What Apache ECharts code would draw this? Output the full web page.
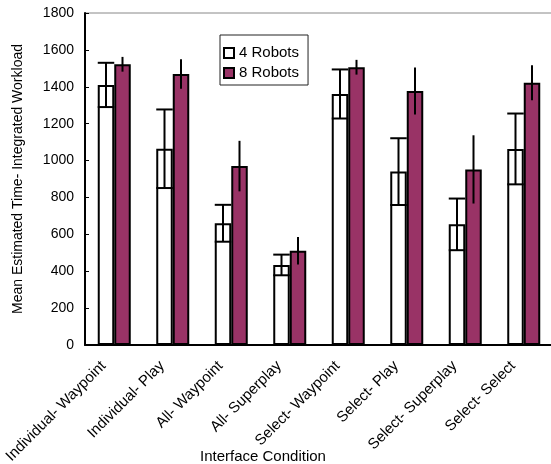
<!DOCTYPE html>
<html>
<head>
<meta charset="utf-8">
<script src="https://cdn.jsdelivr.net/npm/echarts@6/dist/echarts.min.js"></script>
<style>
  html, body { margin: 0; padding: 0; background: #fff; }
  #chart { width: 551px; height: 464px; }
</style>
</head>
<body>
<div id="chart"></div>
<script>
// Interface conditions along the x axis
const categories = ['Individual- Waypoint', 'Individual- Play', 'All- Waypoint', 'All- Superplay',
                    'Select- Waypoint', 'Select- Play', 'Select- Superplay', 'Select- Select'];
// Mean estimated workload and error half-widths
const robots4 = [1410, 1064, 660, 434, 1361, 940, 654, 1063];
const robots4Err = [120, 213, 100, 56, 133, 181, 140, 192];
const robots8 = [1522, 1469, 970, 511, 1506, 1377, 952, 1422];
const robots8Err = [40, 80, 137, 74, 40, 127, 185, 95];
const yTicks = [0, 200, 400, 600, 800, 1000, 1200, 1400, 1600, 1800];

const FONT = 'Arial, "Liberation Sans", sans-serif';
const BAR_W = 16.5;

function errData(vals, errs) {
  return vals.map((v, i) => [i, v - errs[i], v + errs[i]]);
}

function errSeries(name, vals, errs, offset, caps) {
  return {
    type: 'custom',
    name: name + ' err',
    z: 10,
    silent: true,
    data: errData(vals, errs),
    renderItem: function (params, api) {
      const lo = api.coord([api.value(0), api.value(1)]);
      const hi = api.coord([api.value(0), api.value(2)]);
      const x = lo[0] + offset;
      const style = { stroke: '#000', lineWidth: 2 };
      const children = [{ type: 'line', shape: { x1: x, y1: lo[1], x2: x, y2: hi[1] }, style }];
      if (caps) {
        const h = BAR_W / 2;
        children.push({ type: 'line', shape: { x1: x - h, y1: lo[1], x2: x + h, y2: lo[1] }, style });
        children.push({ type: 'line', shape: { x1: x - h, y1: hi[1], x2: x + h, y2: hi[1] }, style });
      }
      return { type: 'group', children };
    }
  };
}

const chart = echarts.init(document.getElementById('chart'), null, { renderer: 'canvas' });
chart.setOption({
  animation: false,
  textStyle: { fontFamily: FONT },
  title: {
    text: 'Interface Condition',
    left: 200, top: 449,
    padding: 0,
    textStyle: { fontFamily: FONT, fontSize: 15, fontWeight: 'normal', color: '#000' }
  },
  legend: {
    orient: 'vertical',
    left: 220, top: 35,
    padding: [9, 9, 3, 3],
    itemGap: 2,
    itemWidth: 10, itemHeight: 10,
    borderColor: '#222', borderWidth: 1,
    icon: 'rect',
    data: ['4 Robots', '8 Robots'],
    textStyle: { fontFamily: FONT, fontSize: 15, color: '#000', lineHeight: 18 }
  },
  grid: {
    left: 85, top: 13, width: 468, height: 332,
    outerBoundsMode: 'none',
    containLabel: false,
    show: true, borderColor: '#888', borderWidth: 1, backgroundColor: 'transparent'
  },
  xAxis: {
    type: 'category',
    data: categories,
    axisLine: { lineStyle: { color: '#000', width: 2 } },
    axisTick: { inside: true, length: 4, lineStyle: { color: '#000', width: 1 } },
    axisLabel: {
      rotate: 45, interval: 0, margin: 8,
      padding: [0, 15, 0, 0],
      fontFamily: FONT, fontSize: 15, color: '#000'
    }
  },
  yAxis: {
    type: 'value',
    min: 0, max: 1800, interval: 200,
    name: 'Mean Estimated Time- Integrated Workload',
    nameLocation: 'middle', nameGap: 60,
    nameTextStyle: { fontFamily: FONT, fontSize: 14, color: '#000' },
    axisLine: { show: true, lineStyle: { color: '#000', width: 2 } },
    axisTick: { show: true, inside: true, length: 4, lineStyle: { color: '#000', width: 1 } },
    splitLine: { show: false },
    axisLabel: {
      margin: 11, fontFamily: FONT, fontSize: 14, color: '#000',
      formatter: v => (yTicks.includes(v) ? String(v) : '')
    }
  },
  series: [
    {
      name: '4 Robots', type: 'bar', data: robots4,
      barWidth: BAR_W, barGap: '0%',
      itemStyle: { color: '#ffffff', borderColor: '#000', borderWidth: 2 }
    },
    {
      name: '8 Robots', type: 'bar', data: robots8,
      barWidth: BAR_W,
      itemStyle: { color: '#993366', borderColor: '#000', borderWidth: 2 }
    },
    errSeries('4 Robots', robots4, robots4Err, -BAR_W / 2, true),
    errSeries('8 Robots', robots8, robots8Err, BAR_W / 2, false)
  ]
});
</script>
</body>
</html>
